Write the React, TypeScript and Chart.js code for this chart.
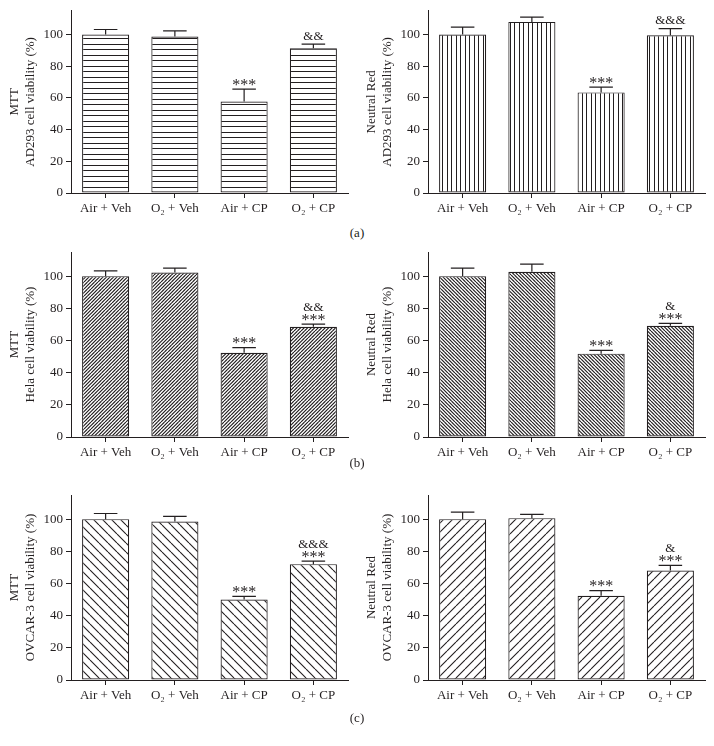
import React, { useEffect, useRef } from 'react';
import { Chart, registerables } from 'chart.js';
Chart.register(...registerables);

const categories = ['Air + Veh', 'O₂ + Veh', 'Air + CP', 'O₂ + CP'];
const yTicks = [0, 20, 40, 60, 80, 100];

const mttAD293 = [100, 98.7, 57.7, 91.3];
const mttAD293Err = [3.2, 3.6, 7.9, 2.7];
const nrAD293 = [100, 108, 63.5, 99.5];
const nrAD293Err = [4.7, 3.0, 3.3, 4.2];
const mttHela = [100, 102.3, 52.4, 68.5];
const mttHelaErr = [3.3, 2.7, 3.1, 1.7];
const nrHela = [100, 102.7, 51.8, 69.2];
const nrHelaErr = [5.0, 4.8, 2.0, 1.4];
const mttOvcar = [100, 98.5, 50, 72];
const mttOvcarErr = [3.5, 3.2, 2.0, 1.9];
const nrOvcar = [100, 100.6, 52.3, 68];
const nrOvcarErr = [4.4, 2.3, 3.3, 3.2];

const starsAD293 = ['', '', '***', ''];
const ampsMttAD293 = ['', '', '', '&&'];
const ampsNrAD293 = ['', '', '', '&&&'];
const starsCP = ['', '', '***', '***'];
const ampsMttHela = ['', '', '', '&&'];
const ampsNrHela = ['', '', '', '&'];
const ampsMttOvcar = ['', '', '', '&&&'];
const ampsNrOvcar = ['', '', '', '&'];

const FONT = "'Liberation Serif', 'Times New Roman', serif";
const INK = '#231f20';

function makePattern(kind: string): CanvasPattern {
  const dense = kind === 'd/' || kind === 'd\\';
  const T = kind === 'h' ? 11 : kind === 'v' ? 9 : dense ? 7 : 9;
  const c = document.createElement('canvas');
  c.width = T;
  c.height = T;
  const g = c.getContext('2d')!;
  g.fillStyle = '#fff';
  g.fillRect(0, 0, T, T);
  g.strokeStyle = INK;
  g.lineWidth = dense ? 1.2 : kind === 'h' || kind === 'v' ? 1 : 1.1;
  g.beginPath();
  if (kind === 'h') {
    g.moveTo(0, 0.5); g.lineTo(T, 0.5);
    g.moveTo(0, 5.5); g.lineTo(T, 5.5);
  } else if (kind === 'v') {
    g.moveTo(0.5, 0); g.lineTo(0.5, T);
    g.moveTo(4.5, 0); g.lineTo(4.5, T);
  } else {
    const p = dense ? 3.5 : 9;
    const fwd = kind.endsWith('/');
    for (let k = -2 * T; k <= 2 * T; k += p) {
      if (fwd) { g.moveTo(k, T); g.lineTo(k + T, 0); }
      else { g.moveTo(k, 0); g.lineTo(k + T, T); }
    }
  }
  g.stroke();
  return g.createPattern(c, 'repeat')!;
}

type PanelProps = {
  left: number; top: number; height: number; padTop: number;
  values: number[]; errs: number[]; stars: string[]; amps: string[];
  title: string[]; pattern: string;
};

function Panel(p: PanelProps) {
  const ref = useRef<HTMLCanvasElement>(null);
  useEffect(() => {
    const canvas = ref.current!;
    const errPlugin = {
      id: 'errbars',
      afterDatasetsDraw(chart: any) {
        const ctx = chart.ctx;
        const meta = chart.getDatasetMeta(0);
        const ys = chart.scales.y;
        ctx.save();
        meta.data.forEach((bar: any, i: number) => {
          const top = ys.getPixelForValue(p.values[i]);
          const yE = ys.getPixelForValue(p.values[i] + p.errs[i]);
          const x = bar.x;
          const cw = bar.width * 0.5;
          ctx.strokeStyle = INK;
          ctx.lineWidth = 1.2;
          ctx.beginPath();
          ctx.moveTo(x, top); ctx.lineTo(x, yE);
          ctx.moveTo(x - cw / 2, yE); ctx.lineTo(x + cw / 2, yE);
          ctx.stroke();
          ctx.fillStyle = INK;
          ctx.textAlign = 'center';
          ctx.textBaseline = 'alphabetic';
          if (p.stars[i]) {
            ctx.font = `16px ${FONT}`;
            ctx.fillText(p.stars[i], x, yE + 0.5);
          }
          if (p.amps[i]) {
            ctx.font = `13px ${FONT}`;
            ctx.fillText(p.amps[i], x, p.stars[i] ? yE - 13.5 : yE - 4.5);
          }
        });
        ctx.restore();
      },
    };
    const axisGrid = {
      display: true, drawOnChartArea: false, drawTicks: true, tickLength: 5,
      color: INK, lineWidth: 1,
    };
    const chart = new Chart(canvas, {
      type: 'bar',
      data: {
        labels: categories,
        datasets: [{
          data: p.values,
          backgroundColor: makePattern(p.pattern),
          borderColor: INK,
          borderWidth: 1.2,
          borderSkipped: false,
          barPercentage: 0.68,
          categoryPercentage: 1,
        }],
      },
      options: {
        animation: false,
        responsive: false,
        devicePixelRatio: 1,
        layout: { padding: { top: p.padTop, right: 9, left: 0, bottom: 0 } },
        plugins: { legend: { display: false }, tooltip: { enabled: false } },
        scales: {
          x: {
            grid: { ...axisGrid, offset: false },
            border: { display: true, color: INK, width: 1 },
            ticks: { color: INK, font: { family: FONT, size: 13 }, padding: 3, maxRotation: 0, autoSkip: false },
            afterFit: (s: any) => { s.height = 32; },
          },
          y: {
            min: 0, max: 115,
            afterBuildTicks: (s: any) => { s.ticks = yTicks.map((v) => ({ value: v })); },
            grid: axisGrid,
            border: { display: true, color: INK, width: 1 },
            ticks: { color: INK, font: { family: FONT, size: 13 }, padding: 3 },
            title: {
              display: true, text: p.title, color: INK,
              font: { family: FONT, size: 13, lineHeight: 1.25 },
              padding: { top: 6, bottom: 0 },
            },
            afterFit: (s: any) => { s.width = 71; },
          },
        },
      } as any,
      plugins: [errPlugin],
    });
    return () => chart.destroy();
  }, []);
  return (
    <canvas ref={ref} width={357} height={p.height}
      style={{ position: 'absolute', left: p.left, top: p.top, width: 357, height: p.height }} />
  );
}

const labelStyle = (top: number): React.CSSProperties => ({
  position: 'absolute', left: 0, width: 714, top, textAlign: 'center',
  fontFamily: FONT, fontSize: 13, lineHeight: '15px', color: INK,
});

export default function App() {
  return (
    <div style={{ position: 'fixed', left: 0, top: 0, width: 714, height: 746, background: '#fff', overflow: 'hidden' }}>
      <Panel left={0} top={0} height={225} padTop={8} values={mttAD293} errs={mttAD293Err}
        stars={starsAD293} amps={ampsMttAD293} title={['MTT', 'AD293 cell viability (%)']} pattern="h" />
      <Panel left={357} top={0} height={225} padTop={8} values={nrAD293} errs={nrAD293Err}
        stars={starsAD293} amps={ampsNrAD293} title={['Neutral Red', 'AD293 cell viability (%)']} pattern="v" />
      <div style={labelStyle(225)}>(a)</div>
      <Panel left={0} top={240} height={229} padTop={12} values={mttHela} errs={mttHelaErr}
        stars={starsCP} amps={ampsMttHela} title={['MTT', 'Hela cell viability (%)']} pattern="d/" />
      <Panel left={357} top={240} height={229} padTop={12} values={nrHela} errs={nrHelaErr}
        stars={starsCP} amps={ampsNrHela} title={['Neutral Red', 'Hela cell viability (%)']} pattern="d\" />
      <div style={labelStyle(455)}>(b)</div>
      <Panel left={0} top={480} height={232} padTop={15} values={mttOvcar} errs={mttOvcarErr}
        stars={starsCP} amps={ampsMttOvcar} title={['MTT', 'OVCAR-3 cell viability (%)']} pattern="s\" />
      <Panel left={357} top={480} height={232} padTop={15} values={nrOvcar} errs={nrOvcarErr}
        stars={starsCP} amps={ampsNrOvcar} title={['Neutral Red', 'OVCAR-3 cell viability (%)']} pattern="s/" />
      <div style={labelStyle(710)}>(c)</div>
    </div>
  );
}
